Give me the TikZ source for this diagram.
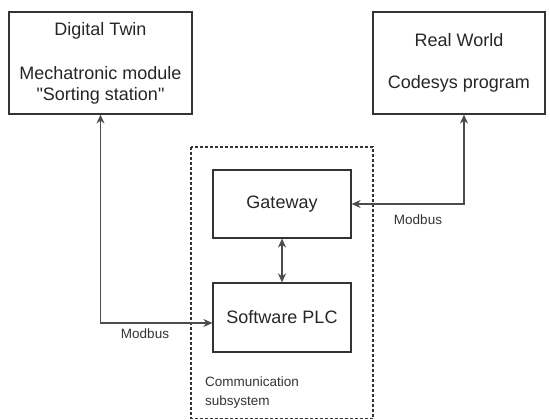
\documentclass[tikz,border=0pt]{standalone}
\usepackage{fontspec}
\setmainfont{Liberation Sans}
\usepackage{tikz}
\usetikzlibrary{arrows.meta, positioning}

\begin{document}
\begin{tikzpicture}[
    x=1pt, y=-1pt,
    block/.style={
        draw=black!80, line width=1.2pt, rectangle,
        text=black!85, align=center, inner sep=0pt,
        font=\fontsize{18}{20.5}\selectfont
    },
    group/.style={draw=black!80, line width=1.1pt, dashed, dash pattern=on 3pt off 2pt},
    link/.style={{Stealth[length=9pt,width=8pt]}-{Stealth[length=9pt,width=8pt]}, line width=1.2pt, draw=black!70},
    tag/.style={font=\fontsize{13.5}{19}\selectfont, text=black!80, inner sep=0pt}
]
\useasboundingbox (0,0) rectangle (550,420);

\node[block, minimum width=183pt, minimum height=102pt] (twin) at (100.5,63)
    {Digital Twin\\[24pt]Mechatronic module\\\textquotedbl Sorting station\textquotedbl};
\node[block, minimum width=172pt, minimum height=102pt] (real) at (459,63)
    {Real World\\[22pt]Codesys program};

\draw[group] (191,147) rectangle (373,418.5);
\node[block, minimum width=138pt, minimum height=68pt] (gw)  at (282,204) {Gateway};
\node[block, minimum width=138pt, minimum height=69pt] (plc) at (282,317.5) {Software PLC};
\node[tag, align=left, anchor=north west] (sub) at (205,377) {Communication\\subsystem};

\draw[link] (gw) -- (plc);
\draw[link] (twin.south) |- ([yshift=-5.5pt]plc.west);
\draw[link] ([xshift=5pt]real.south) |- (gw.east);

\node[tag] (mb1) at (145,334) {Modbus};
\node[tag] (mb2) at (418,220) {Modbus};

\end{tikzpicture}
\end{document}
